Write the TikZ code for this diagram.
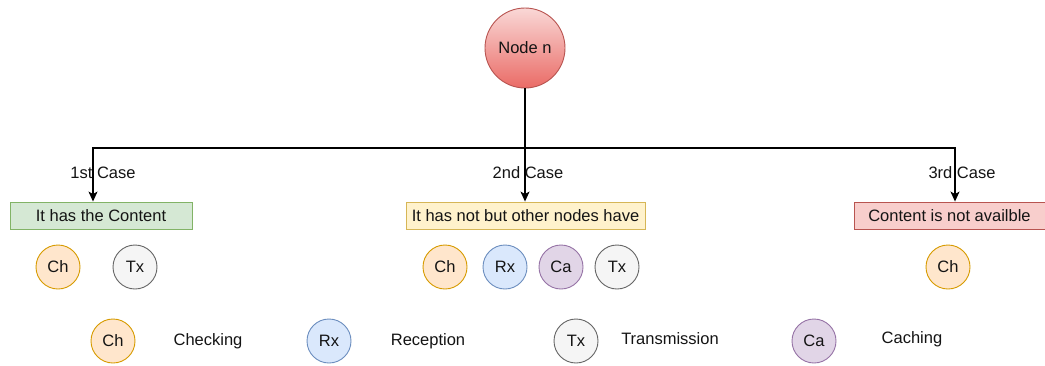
\documentclass[tikz,border=0pt]{standalone}
\usepackage{fontspec}
\setmainfont{Liberation Sans}
\usetikzlibrary{arrows.meta}
\definecolor{redF}{RGB}{248,206,204}
\definecolor{redS}{RGB}{184,84,80}
\definecolor{redD}{RGB}{234,107,102}
\definecolor{grnF}{RGB}{213,232,212}
\definecolor{grnS}{RGB}{130,179,102}
\definecolor{yelF}{RGB}{255,242,204}
\definecolor{yelS}{RGB}{214,182,86}
\definecolor{orF}{RGB}{255,230,204}
\definecolor{orS}{RGB}{215,155,0}
\definecolor{bluF}{RGB}{218,232,252}
\definecolor{bluS}{RGB}{108,142,191}
\definecolor{purF}{RGB}{225,213,231}
\definecolor{purS}{RGB}{150,115,166}
\definecolor{gryF}{RGB}{245,245,245}
\definecolor{gryS}{RGB}{102,102,102}
\definecolor{txt}{RGB}{20,20,20}
\begin{document}
\begin{tikzpicture}[x=1pt,y=-1pt,
  every node/.style={font=\fontsize{16.5}{19}\selectfont, text=txt, inner sep=0pt},
  bigc/.style={circle, minimum size=80pt, draw=redS, line width=0.9pt, top color=redF!80!white, bottom color=redD},
  casebox/.style={rectangle, minimum height=27pt, line width=0.9pt},
  sm/.style={circle, minimum size=44pt, line width=0.9pt},
  ch/.style={sm, fill=orF, draw=orS},
  rx/.style={sm, fill=bluF, draw=bluS},
  ca/.style={sm, fill=purF, draw=purS},
  tx/.style={sm, fill=gryF, draw=gryS},
  conn/.style={line width=1.2pt, -{Stealth[length=10pt,width=9pt,inset=2.5pt]}},
  lbl/.style={}]
\useasboundingbox[fill=white] (0,0) rectangle (1045,365);

\node[bigc] (n) at (525,48) {Node n};

\node[casebox, fill=grnF, draw=grnS, minimum width=182pt] (b1) at (101,215.5) {It has the Content};
\node[casebox, fill=yelF, draw=yelS, minimum width=239pt] (b2) at (525.5,215.5) {It has not but other nodes have};
\node[casebox, fill=redF, draw=redS, minimum width=191pt] (b3) at (949.5,215.5) {Content is not availble};

\coordinate (j0) at (525,148);
\coordinate (j1) at (93,148);
\coordinate (j3) at (955,148);

\draw[conn] (n.south) -- (j0) -| (j1) -- (j1 |- b1.north);
\draw[conn] (n.south) -- (b2.north -| n.south);
\draw[conn] (n.south) -- (j0) -| (j3) -- (j3 |- b3.north);

\node[lbl] (l1) at (103,173) {1st Case};
\node[lbl] (l2) at (528,173) {2nd Case};
\node[lbl] (l3) at (962,173) {3rd Case};

\node[ch] (c11) at (58,267) {Ch};
\node[tx] (c12) at (135,267) {Tx};

\node[ch] (c21) at (445,267) {Ch};
\node[rx] (c22) at (505,267) {Rx};
\node[ca] (c23) at (561,267) {Ca};
\node[tx] (c24) at (617,267) {Tx};

\node[ch] (c31) at (948,267) {Ch};

\node[ch] (g1) at (113,341) {Ch};
\node (t1) at (208,341) {Checking};
\node[rx] (g2) at (329,341) {Rx};
\node (t2) at (428,341) {Reception};
\node[tx] (g3) at (576,341) {Tx};
\node (t3) at (670,339) {Transmission};
\node[ca] (g4) at (814,341) {Ca};
\node (t4) at (912,339) {Caching};
\end{tikzpicture}
\end{document}
